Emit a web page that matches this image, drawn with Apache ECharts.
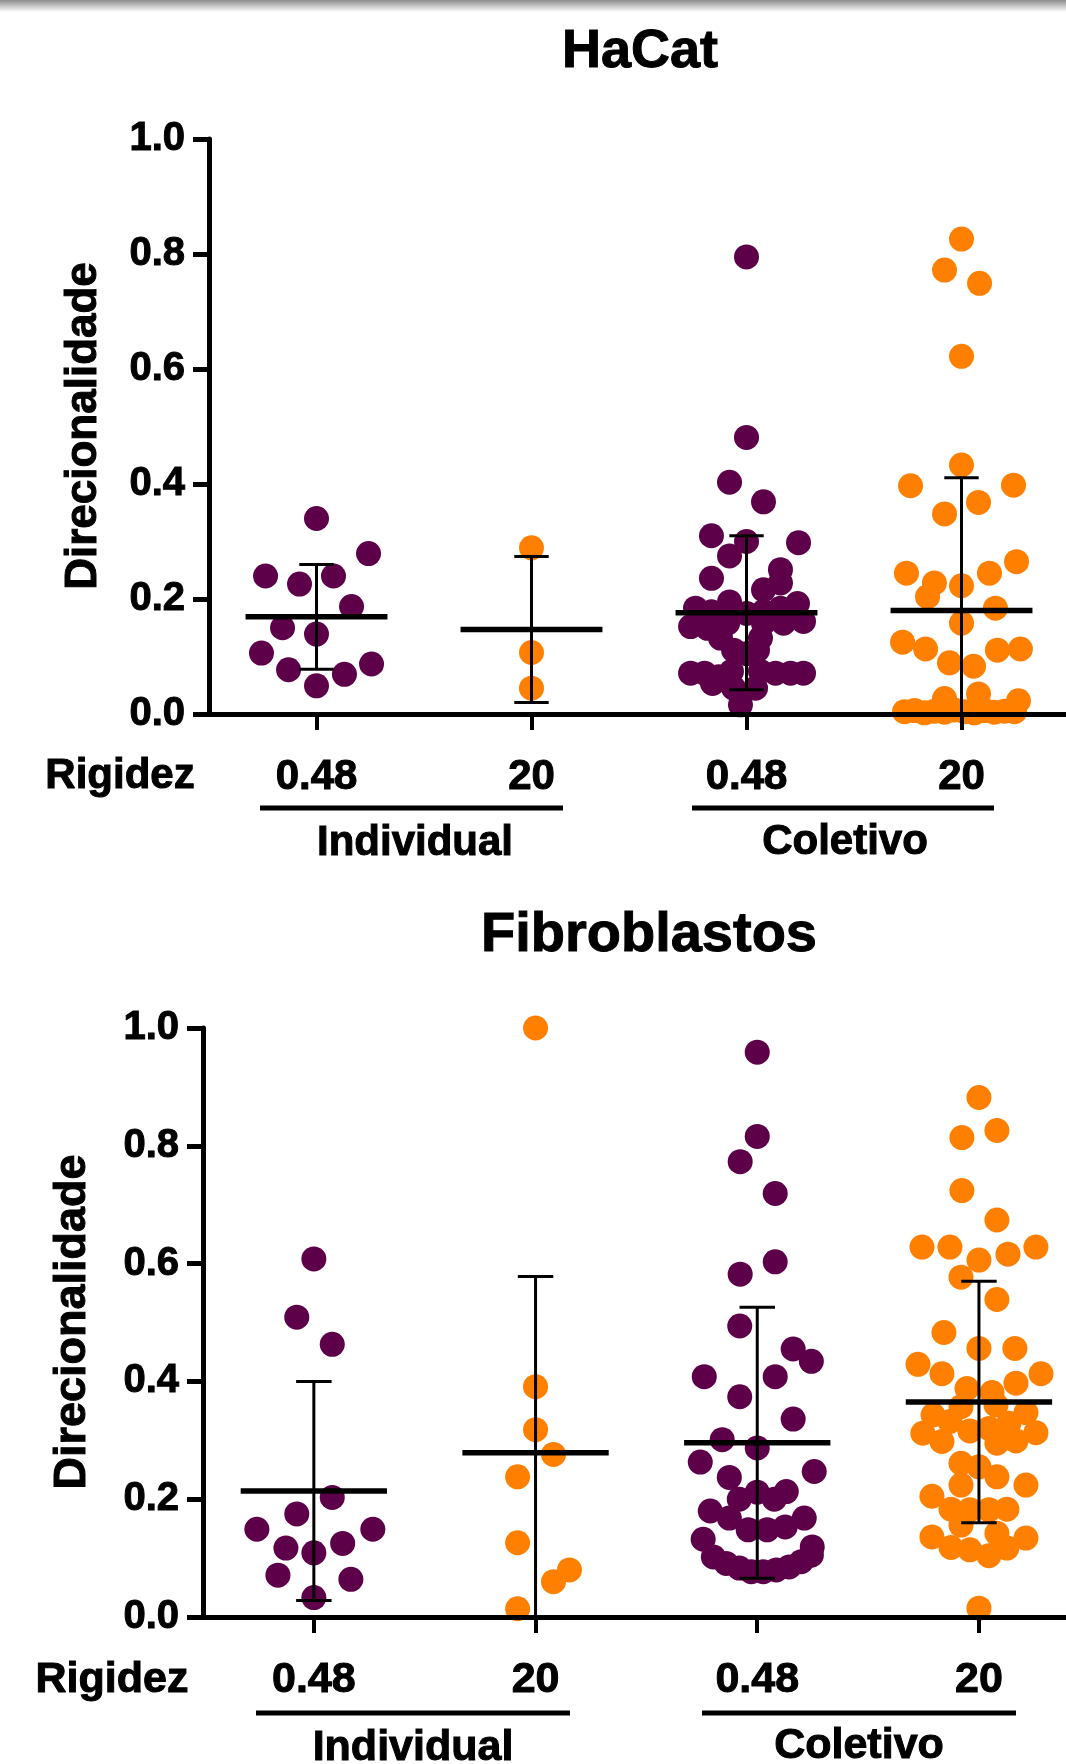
<!DOCTYPE html>
<html>
<head>
<meta charset="utf-8">
<script src="https://cdn.jsdelivr.net/npm/echarts@6/dist/echarts.min.js"></script>
<style>
  html, body { margin: 0; padding: 0; background: #ffffff; }
  #chart { width: 1066px; height: 1764px; }
</style>
</head>
<body>
<div id="chart"></div>
<script>
// stiffness groups on the x axis (Individual: 0.48, 20 / Coletivo: 0.48, 20)
const groupLabels = ['0.48', '20', '0.48', '20'];
const groupPos = [0, 1, 2, 3];
const yTicks = [0, 0.2, 0.4, 0.6, 0.8, 1.0];

// ---- HaCat ----
// values, jitter = horizontal offset of each dot in category widths
const hacatInd048 = [0.340, 0.279, 0.240, 0.240, 0.226, 0.187, 0.150, 0.139, 0.106, 0.087, 0.077, 0.069, 0.049];
const hacatInd048Jitter = [0, 0.242, -0.237, 0.079, -0.079, 0.163, -0.158, 0, -0.256, 0.256, -0.130, 0.130, 0];

const hacatInd20 = [0.289, 0.107, 0.045];
const hacatInd20Jitter = [0, 0, 0];

const hacatCol048 = [
  0.795, 0.481, 0.403, 0.369, 0.310, 0.300, 0.298, 0.275, 0.251, 0.236, 0.228, 0.216,
  0.184, 0.178, 0.195, 0.175, 0.178, 0.184, 0.192, 0.152, 0.149, 0.158, 0.158, 0.158, 0.161,
  0.132, 0.132, 0.111, 0.111, 0.105,
  0.071, 0.071, 0.065, 0.074, 0.074, 0.071, 0.071, 0.071, 0.053, 0.045, 0.045, 0.016
];
const hacatCol048Jitter = [
  0, 0, -0.079, 0.079, -0.163, 0, 0.242, -0.079, 0.158, -0.163, 0.158, 0.079,
  -0.237, -0.163, -0.079, 0, 0.079, 0.158, 0.237, -0.260, -0.181, -0.088, 0.079, 0.172, 0.265,
  -0.121, 0.065, -0.060, 0.051, 0,
  -0.260, -0.195, -0.130, -0.070, 0.065, 0.135, 0.205, 0.265, -0.158, -0.060, 0.042, -0.028
];

const hacatCol20 = [
  0.826, 0.772, 0.749, 0.622, 0.433, 0.397, 0.398, 0.368, 0.348, 0.265, 0.245, 0.245, 0.228,
  0.223, 0.204, 0.184, 0.158, 0.125, 0.113, 0.111, 0.113, 0.089, 0.083, 0.027, 0.035, 0.023,
  0.004, 0.006, 0.002, 0.005, 0.003, 0.007, 0.004, 0.002, 0.006, 0.003, 0.005, 0.004
];
const hacatCol20Jitter = [
  0, -0.079, 0.084, 0, 0, -0.237, 0.242, 0.079, -0.079, 0.256, -0.256, 0.130, -0.126,
  0, -0.158, 0.158, 0, -0.274, -0.167, 0.167, 0.274, -0.056, 0.056, -0.079, 0.079, 0.265,
  -0.265, -0.219, -0.172, -0.126, -0.079, -0.033, 0.014, 0.060, 0.107, 0.153, 0.200, 0.247
];

// mean and SD per group, as drawn
const hacatMeans = [0.169, 0.147, 0.176, 0.180];
const hacatSD = [0.091, 0.127, 0.134, 0.231];

// ---- Fibroblastos ----
const fibroInd048 = [0.608, 0.509, 0.463, 0.203, 0.175, 0.149, 0.149, 0.125, 0.117, 0.109, 0.071, 0.064, 0.033];
const fibroInd048Jitter = [0, -0.077, 0.083, 0.083, -0.077, -0.257, 0.266, 0.130, -0.126, 0, -0.162, 0.167, 0];

const fibroInd20 = [1.0, 0.391, 0.318, 0.276, 0.238, 0.126, 0.080, 0.060, 0.014];
const fibroInd20Jitter = [0, 0, 0, 0.081, -0.081, -0.081, 0.153, 0.081, -0.081];

const fibroCol048 = [
  0.959, 0.816, 0.773, 0.719, 0.603, 0.582, 0.494, 0.455, 0.434, 0.408, 0.408, 0.374, 0.336,
  0.301, 0.287, 0.263, 0.247, 0.237, 0.212, 0.213, 0.200, 0.200, 0.180, 0.168, 0.168,
  0.148, 0.148, 0.153, 0.132, 0.119,
  0.102, 0.091, 0.083, 0.077, 0.077, 0.080, 0.085, 0.094, 0.105
];
const fibroCol048Jitter = [
  0, 0, -0.077, 0.081, 0.081, -0.077, -0.079, 0.162, 0.244, -0.239, 0.081, -0.079, 0.162,
  -0.158, 0, -0.257, 0.257, -0.126, 0, 0.131, -0.081, 0.077, -0.212, 0.212, -0.126,
  -0.041, 0.045, 0.126, -0.244, 0.248,
  -0.198, -0.140, -0.081, -0.027, 0.027, 0.086, 0.144, 0.198, 0.244
];

const fibroCol20 = [
  0.882, 0.814, 0.826, 0.724, 0.674, 0.628, 0.628, 0.628, 0.616, 0.606, 0.577, 0.539,
  0.483, 0.456, 0.456, 0.429, 0.413, 0.413, 0.397, 0.388, 0.381,
  0.357, 0.360, 0.343, 0.347, 0.332, 0.329, 0.312, 0.313, 0.316, 0.320, 0.298, 0.299, 0.295,
  0.261, 0.255, 0.238, 0.224, 0.205, 0.224, 0.183, 0.182, 0.182, 0.183,
  0.156, 0.136, 0.142, 0.134, 0.118, 0.114, 0.104, 0.117, 0.015
];
const fibroCol20Jitter = [
  0, -0.077, 0.081, -0.077, 0.081, -0.257, -0.131, 0.257, 0.131, 0, -0.081, 0.081,
  -0.158, 0, 0.162, -0.275, -0.167, 0.280, 0.167, -0.054, 0.059,
  -0.081, 0.077, -0.207, 0.212, -0.131, 0.135, -0.253, 0.257, -0.041, 0.045, -0.167, 0.167, 0.081,
  -0.081, 0, 0.081, -0.081, -0.212, 0.212, -0.126, -0.041, 0.045, 0.126,
  -0.081, -0.212, 0.081, 0.212, -0.126, -0.041, 0.045, 0.126, 0
];

const fibroMeans = [0.214, 0.279, 0.296, 0.365];
const fibroSD = [0.186, 0.299, 0.230, 0.205];

const PURPLE = '#5e0049';
const ORANGE = '#ff8000';
const FONT = '"Liberation Sans", Arial, Helvetica, sans-serif';

// plot boxes; both x axes run off the right edge of the picture
const W = 1066;
const panels = [
  { left: 209, top: 139, height: 575, step: 215 },
  { left: 203, top: 1028, height: 589, step: 221.7 }
];

const chart = echarts.init(document.getElementById('chart'), null, { renderer: 'canvas' });

function dots(cat, values, jitter) {
  return values.map((v, i) => [cat + jitter[i], v]);
}

function scatter(gridIdx, cat, values, jitter, color) {
  return {
    type: 'scatter',
    xAxisIndex: gridIdx,
    yAxisIndex: gridIdx,
    data: dots(cat, values, jitter),
    symbol: 'circle',
    symbolSize: 25,
    itemStyle: { color: color, opacity: 1 },
    clip: false,
    silent: true,
    z: 2
  };
}

// mean line + SD whiskers, clipped at the axis minimum
function summary(gridIdx, means, sds) {
  return {
    type: 'custom',
    xAxisIndex: gridIdx,
    yAxisIndex: gridIdx,
    data: means.map((m, i) => [groupPos[i], m, sds[i]]),
    clip: false,
    silent: true,
    z: 5,
    renderItem: (params, api) => {
      const x = api.value(0);
      const m = api.value(1);
      const s = api.value(2);
      const lo = Math.max(0, m - s);
      const hi = m + s;
      const ml = api.coord([x - 0.33, m]);
      const mr = api.coord([x + 0.33, m]);
      const top = api.coord([x, hi]);
      const bot = api.coord([x, lo]);
      const capL = api.coord([x - 0.08, hi]);
      const capR = api.coord([x + 0.08, hi]);
      const capL2 = api.coord([x - 0.08, lo]);
      const capR2 = api.coord([x + 0.08, lo]);
      const thin = { stroke: '#000', lineWidth: 3 };
      return {
        type: 'group',
        children: [
          { type: 'line', shape: { x1: top[0], y1: top[1], x2: bot[0], y2: bot[1] }, style: thin },
          { type: 'line', shape: { x1: capL[0], y1: capL[1], x2: capR[0], y2: capR[1] }, style: thin },
          { type: 'line', shape: { x1: capL2[0], y1: capL2[1], x2: capR2[0], y2: capR2[1] }, style: thin },
          { type: 'line', shape: { x1: ml[0], y1: ml[1], x2: mr[0], y2: mr[1] }, style: { stroke: '#000', lineWidth: 5.5 } }
        ]
      };
    }
  };
}

function xAxis(gridIdx, labelSize) {
  const p = panels[gridIdx];
  return {
    type: 'value',
    gridIndex: gridIdx,
    min: -0.5,
    max: -0.5 + (W - p.left) / p.step,
    axisLine: { show: true, onZero: false, lineStyle: { color: '#000', width: 5 } },
    axisTick: { show: true, customValues: groupPos, length: 16, lineStyle: { color: '#000', width: 4 } },
    axisLabel: {
      show: true, customValues: groupPos, margin: 63, verticalAlign: 'middle',
      color: '#000', fontSize: labelSize, fontWeight: 'bold', fontFamily: FONT,
      textBorderColor: '#000', textBorderWidth: 1,
      formatter: (v) => groupLabels[Math.round(v)]
    },
    splitLine: { show: false },
    z: 3
  };
}

function valAxis(gridIdx) {
  return {
    type: 'value',
    gridIndex: gridIdx,
    min: yTicks[0],
    max: yTicks[yTicks.length - 1],
    interval: 0.2,
    axisLine: { show: true, onZero: false, lineStyle: { color: '#000', width: 5 } },
    axisTick: { show: true, inside: false, length: 16, lineStyle: { color: '#000', width: 5 } },
    axisLabel: {
      margin: 24, color: '#000', fontSize: 40, fontWeight: 'bold', fontFamily: FONT,
      textBorderColor: '#000', textBorderWidth: 1,
      formatter: (v) => v.toFixed(1)
    },
    splitLine: { show: false },
    z: 3
  };
}

function txt(x, y, text, size, rot) {
  return {
    type: 'text', x: x, y: y, rotation: rot || 0, silent: true,
    style: {
      text: text, fill: '#000', fontSize: size, fontWeight: 'bold', fontFamily: FONT,
      align: 'center', verticalAlign: 'middle',
      stroke: '#000', lineWidth: 1
    }
  };
}

function bar(x1, x2, y) {
  return {
    type: 'line', silent: true,
    shape: { x1: x1, y1: y, x2: x2, y2: y },
    style: { stroke: '#000', lineWidth: 5 }
  };
}

const option = {
  backgroundColor: '#ffffff',
  animation: false,
  grid: panels.map((p) => ({ left: p.left, top: p.top, right: 0, height: p.height })),
  xAxis: [xAxis(0, 42), xAxis(1, 43)],
  yAxis: [valAxis(0), valAxis(1)],
  series: [
    scatter(0, groupPos[0], hacatInd048, hacatInd048Jitter, PURPLE),
    scatter(0, groupPos[1], hacatInd20, hacatInd20Jitter, ORANGE),
    scatter(0, groupPos[2], hacatCol048, hacatCol048Jitter, PURPLE),
    scatter(0, groupPos[3], hacatCol20, hacatCol20Jitter, ORANGE),
    summary(0, hacatMeans, hacatSD),
    scatter(1, groupPos[0], fibroInd048, fibroInd048Jitter, PURPLE),
    scatter(1, groupPos[1], fibroInd20, fibroInd20Jitter, ORANGE),
    scatter(1, groupPos[2], fibroCol048, fibroCol048Jitter, PURPLE),
    scatter(1, groupPos[3], fibroCol20, fibroCol20Jitter, ORANGE),
    summary(1, fibroMeans, fibroSD)
  ],
  graphic: [
    // screenshot shadow along the top edge
    {
      type: 'rect', silent: true, shape: { x: 0, y: 0, width: W, height: 12 },
      style: {
        fill: new echarts.graphic.LinearGradient(0, 0, 0, 1, [
          { offset: 0, color: 'rgba(0,0,0,0.45)' },
          { offset: 1, color: 'rgba(0,0,0,0)' }
        ])
      }
    },
    txt(640, 52, 'HaCat', 54),
    txt(84, 426, 'Direcionalidade', 44, Math.PI / 2),
    txt(120, 776, 'Rigidez', 42),
    bar(260, 563, 808),
    bar(692, 994, 808),
    txt(415, 843, 'Individual', 42),
    txt(845, 842, 'Coletivo', 42),

    txt(649, 936, 'Fibroblastos', 56),
    txt(73, 1322, 'Direcionalidade', 45, Math.PI / 2),
    txt(112, 1680, 'Rigidez', 43),
    bar(256, 570, 1713),
    bar(702, 1016, 1713),
    txt(413, 1748, 'Individual', 43),
    txt(859, 1746, 'Coletivo', 43)
  ]
};

chart.setOption(option);
</script>
</body>
</html>
